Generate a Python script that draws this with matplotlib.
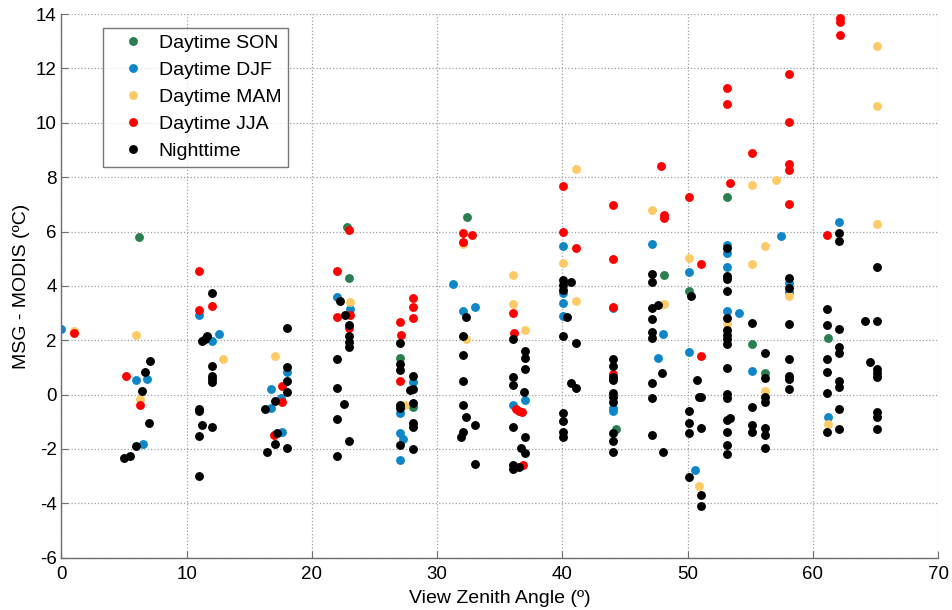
import matplotlib
matplotlib.use('Agg')
import matplotlib.pyplot as plt

plt.rcParams['font.family'] = ['Liberation Sans', 'DejaVu Sans']
plt.rcParams['axes.unicode_minus'] = False

# view zenith angle (deg) and MSG - MODIS difference (degC) per group
son_x = [6.2, 22.8, 22.96, 27.04, 28.1, 32.4, 44.3, 48.1, 50.1, 53.13, 55.15, 56.2, 61.2]
son_y = [5.81, 6.15, 4.28, 1.35, -0.45, 6.53, -1.26, 4.4, 3.82, 7.27, 1.85, 0.79, 2.07]

djf_x = [0.0, 5.95, 6.86, 6.54, 11.0, 12.0, 12.55, 18.0, 16.7, 17.5, 16.7, 17.6,
         22.0, 23.04, 28.1, 27.04, 27.04, 27.3, 27.04, 31.3, 32.04, 33.05, 36.06,
         37.05, 40.08, 40.08, 40.08, 40.08, 44.07, 44.07, 44.07, 47.14, 47.6, 48.07,
         50.1, 50.1, 50.57, 53.13, 53.13, 53.13, 53.13, 54.14, 55.12, 57.5, 58.1,
         58.1, 61.2, 62.12]
djf_y = [2.43, 0.54, 0.59, -1.81, 2.93, 1.99, 2.24, 0.85, 0.2, -0.13, -0.5, -1.36,
         3.58, 3.14, 0.47, -0.66, -1.42, -1.62, -2.41, 4.06, 3.08, 3.21, -0.39,
         -0.19, 5.48, 3.75, 3.36, 2.88, 3.17, -0.5, -0.6, 5.54, 1.36, 2.22,
         4.5, 1.57, -2.77, 5.5, 5.2, 4.71, 3.08, 2.99, 0.87, 5.83, 4.1,
         3.79, -0.81, 6.34]

mam_x = [1.0, 5.95, 6.3, 12.9, 17.03, 23.04, 27.4, 32.04, 32.3, 36.06, 36.06, 37.05,
         40.08, 41.1, 41.1, 47.14, 48.1, 50.1, 50.9, 53.13, 55.15, 55.12, 56.17, 56.2,
         57.1, 58.1, 61.2, 65.14, 65.14, 65.14]
mam_y = [2.35, 2.19, -0.15, 1.31, 1.42, 3.41, -0.4, 5.54, 2.06, 4.4, 3.33, 2.38,
         4.83, 8.3, 3.46, 6.79, 3.33, 5.02, -3.37, 2.6, 7.7, 4.8, 5.48, 0.15,
         7.89, 3.63, -1.08, 12.81, 10.61, 6.28]

jja_x = [1.0, 5.18, 6.27, 10.98, 10.98, 12.0, 17.6, 17.6, 16.97, 22.0, 23.0, 22.0,
         23.04, 23.0, 28.1, 28.1, 28.1, 27.06, 27.1, 27.04, 32.04, 32.79, 32.04,
         36.06, 36.17, 36.3, 36.55, 36.8, 36.83, 40.08, 40.08, 41.1, 44.07, 44.07,
         44.07, 44.07, 47.9, 48.1, 48.1, 50.12, 51.08, 51.08, 53.13, 53.13, 53.4,
         55.15, 58.1, 58.1, 58.1, 58.1, 58.1, 61.17, 62.16, 62.16, 62.16]
jja_y = [2.25, 0.68, -0.39, 4.56, 3.11, 3.27, 0.32, -0.29, -1.47, 4.55, 6.07, 2.87,
         2.93, 2.45, 3.57, 3.21, 2.8, 2.68, 2.21, 0.5, 5.96, 5.86, 5.63,
         2.99, 2.28, -0.53, -0.59, -0.64, -2.58, 7.67, 5.98, 5.4, 6.99, 5.0,
         3.24, 0.76, 8.42, 6.6, 6.49, 7.28, 4.82, 1.42, 11.28, 10.7, 7.79,
         8.9, 11.79, 10.04, 8.5, 8.26, 7.01, 5.87, 13.84, 13.7, 13.24]

night_x = [4.97, 5.47, 5.95, 6.43, 6.64, 7.04, 7.0,
           12.0, 11.22, 11.45, 11.65, 12.0, 12.0, 12.0, 12.0, 10.98, 10.98, 11.22,
           12.0, 10.98, 10.98,
           18.0, 18.0, 18.0, 18.0, 17.05, 16.23, 17.18, 17.03, 16.41, 17.98,
           22.24, 22.67, 23.0, 23.0, 23.0, 23.0, 22.0, 22.0, 22.54, 22.0, 23.0, 22.0,
           27.04, 27.04, 27.04, 28.1, 27.8, 28.1, 27.04, 27.04, 28.1, 28.1, 28.1,
           27.04, 28.1,
           32.3, 32.04, 32.04, 32.04, 32.04, 32.3, 33.05, 32.04, 31.93, 33.05,
           36.06, 37.05, 37.05, 37.05, 36.06, 36.06, 36.97, 36.06, 37.05, 36.68,
           37.05, 36.06, 36.06, 36.57,
           40.08, 40.7, 40.08, 40.08, 40.35, 40.08, 41.1, 40.67, 41.1, 40.08, 40.08,
           40.08, 40.08,
           44.07, 44.07, 44.07, 44.07, 44.07, 44.07, 44.07, 44.07, 44.07, 44.07,
           47.14, 47.14, 47.6, 47.14, 47.14, 47.14, 47.14, 47.94, 47.14, 47.14,
           47.14, 48.07,
           50.28, 50.73, 50.9, 51.08, 50.12, 50.12, 51.08, 50.12, 50.12, 51.08, 51.08,
           53.13, 53.13, 53.13, 53.13, 53.13, 53.13, 53.13, 53.13, 53.13, 53.13,
           53.13, 53.13, 53.13, 53.4, 53.13, 53.13, 53.13,
           55.12, 55.12, 55.12, 55.12,
           56.2, 56.2, 56.2, 56.2, 56.2, 56.2, 56.2,
           58.1, 58.1, 58.1, 58.1, 58.1, 58.1, 58.1,
           62.12, 62.12, 61.17, 61.17, 62.12, 62.12, 62.12, 61.17, 61.17, 62.12,
           62.12, 61.17, 62.12, 61.17, 62.12,
           64.15, 65.14, 65.14, 64.6, 65.14, 65.14, 65.14, 65.14, 65.14, 65.14]
night_y = [-2.34, -2.25, -1.9, 0.12, 0.83, 1.23, -1.03,
           3.73, 1.96, 2.05, 2.16, 1.04, 0.69, 0.58, 0.48, -0.53, -0.62, -1.1,
           -1.19, -1.52, -2.99,
           2.46, 1.0, 0.49, 0.1, -0.23, -0.54, -1.43, -1.81, -2.12, -1.97,
           3.43, 2.94, 2.56, 2.15, 1.95, 1.76, 1.32, 0.23, -0.34, -0.9, -1.72, -2.27,
           1.89, 1.13, 0.92, 0.69, 0.17, 0.2, -0.38, -0.48, -0.32, -1.03, -1.18,
           -1.85, -2.0,
           2.87, 2.16, 1.45, 0.49, -0.39, -0.81, -1.11, -1.37, -1.57, -2.56,
           2.04, 1.62, 1.36, 0.96, 0.64, 0.36, 0.1, -1.19, -1.57, -1.95,
           -2.13, -2.58, -2.74, -2.67,
           4.22, 4.13, 4.02, 3.85, 2.85, 2.16, 1.89, 0.44, 0.26, -0.69, -0.97,
           -1.37, -1.57,
           1.32, 1.06, 0.66, 0.54, 0.07, -0.07, -0.26, -1.42, -1.69, -2.12,
           4.44, 4.16, 3.29, 3.18, 2.77, 2.32, 2.07, 0.81, 0.42, -0.11,
           -1.48, -2.1,
           3.63, 0.52, -0.07, -0.07, -0.62, -1.05, -1.24, -1.43, -3.03, -3.69, -4.09,
           5.38, 4.36, 4.24, 3.82, 2.83, 2.38, 2.19, 2.04, 1.86, 0.99,
           0.01, -0.13, -0.93, -0.85, -1.36, -1.86, -2.18,
           2.65, -0.44, -1.11, -1.39,
           1.52, 0.61, -0.07, -0.26, -1.24, -1.48, -1.95,
           4.3, 3.93, 2.59, 1.32, 0.7, 0.57, 0.21,
           5.96, 5.65, 3.14, 2.55, 2.4, 1.76, 1.52, 1.3, 0.83, 0.51,
           0.27, 0.05, -0.54, -1.37, -1.25,
           2.71, 2.72, 4.71, 1.21, 0.93, 0.79, 0.64, -0.65, -0.83, -1.25]

groups = [
    ('Daytime SON', son_x, son_y, '#2a7f50'),
    ('Daytime DJF', djf_x, djf_y, '#0f86c8'),
    ('Daytime MAM', mam_x, mam_y, '#fdca66'),
    ('Daytime JJA', jja_x, jja_y, '#ff0000'),
    ('Nighttime', night_x, night_y, '#000000'),
]

fig = plt.figure(figsize=(9.52, 6.10), dpi=100)
ax = fig.add_axes([0.0646, 0.0857, 0.9207, 0.8913])

for label, xs, ys, col in groups:
    ax.plot(xs, ys, 'o', color=col, markersize=6.4, markeredgewidth=0,
            linestyle='none', label=label)

ax.set_xlim(0, 70)
ax.set_ylim(-6, 14)
ax.set_xticks(range(0, 71, 10))
ax.set_yticks(range(-6, 15, 2))
ax.grid(True, linestyle=':', color='#a0a0a0', linewidth=0.9)

for side in ['top', 'right']:
    ax.spines[side].set_visible(False)
for side in ['left', 'bottom']:
    ax.spines[side].set_color('#6e6e6e')
    ax.spines[side].set_linewidth(1.0)
ax.tick_params(direction='in', length=5, color='#6e6e6e', labelsize=13.5,
               labelcolor='black')
ax.tick_params(axis='x', pad=6)

ax.set_xlabel('View Zenith Angle (º)', fontsize=14, labelpad=5)
ax.set_ylabel('MSG - MODIS (ºC)', fontsize=14, labelpad=4)

leg = ax.legend(loc='upper left', bbox_to_anchor=(0.047, 0.975), borderaxespad=0,
                fontsize=14, frameon=True, fancybox=False, labelspacing=0.48,
                handlelength=2.37, handletextpad=0.15, borderpad=0.36,
                markerscale=1.0)
leg.get_frame().set_edgecolor('#555555')
leg.get_frame().set_linewidth(1.0)

plt.savefig('out.png', dpi=100)
